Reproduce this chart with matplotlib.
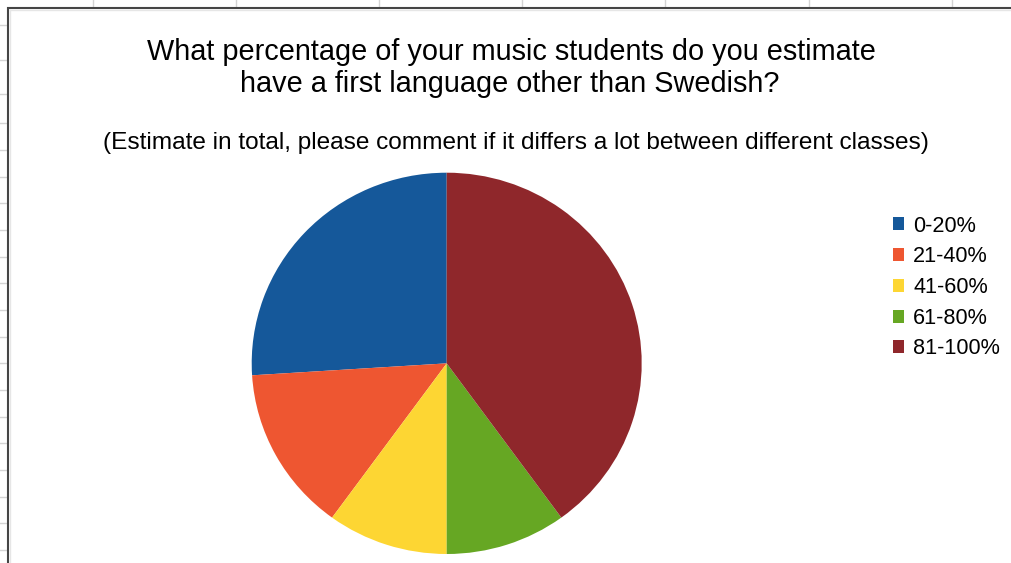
import matplotlib.pyplot as plt
from matplotlib.lines import Line2D
from matplotlib.patches import Rectangle

# data
labels = ['0-20%', '21-40%', '41-60%', '61-80%', '81-100%']
shares = [26, 14, 10, 10, 40]
colors = ['#15589a', '#ee5631', '#fdd633', '#66a723', '#8f272b']

title_1 = 'What percentage of your music students do you estimate'
title_2 = 'have a first language other than Swedish?'
subtitle = '(Estimate in total, please comment if it differs a lot between different classes)'

plt.rcParams['font.family'] = ['Liberation Sans', 'DejaVu Sans']

W, H = 1011, 563
fig = plt.figure(figsize=(W / 100, H / 100), dpi=100)
fig.patch.set_facecolor('white')

def fx(px):
    return px / W

def fy(py):
    return 1 - py / H

# spreadsheet cells behind the chart
grid_col = '#d4d4d4'
for x in [93, 236, 379, 522, 665, 809, 952]:
    fig.add_artist(Line2D([fx(x), fx(x)], [fy(0), fy(7)], color=grid_col, lw=1, zorder=-3))
for y in [25, 60, 94, 123, 150, 177, 203, 230, 257, 283, 310, 337, 363, 390, 417, 443, 470, 497, 523, 550]:
    fig.add_artist(Line2D([fx(0), fx(7)], [fy(y), fy(y)], color=grid_col, lw=1, zorder=-3))

# chart box
fig.add_artist(Rectangle((fx(7.5), fy(600)), fx(1100), fy(7.5) - fy(600),
                         facecolor='white', edgecolor='#454545', lw=1.5, zorder=-2))
fig.add_artist(Line2D([fx(10), fx(10)], [fy(10), fy(563)], color='#e6e6e6', lw=1, zorder=-1))
fig.add_artist(Line2D([fx(10), fx(1011)], [fy(10), fy(10)], color='#e6e6e6', lw=1, zorder=-1))

fig.text(fx(511), fy(60.5), title_1, ha='center', va='baseline', fontsize=20.8, color='black')
fig.text(fx(510), fy(92), title_2, ha='center', va='baseline', fontsize=20.8, color='black')
fig.text(fx(516), fy(149.5), subtitle, ha='center', va='baseline', fontsize=17.6, color='black')

# pie
ax = fig.add_axes([fx(251.7), fy(554), fx(641.7) - fx(251.7), fy(172.7) - fy(554)])
wedges, _ = ax.pie(shares, colors=colors, startangle=90, counterclock=True,
                   wedgeprops=dict(linewidth=0, edgecolor='none'))
ax.set_aspect('auto')
ax.set_xlim(-1, 1)
ax.set_ylim(-1, 1)
ax.axis('off')

fig.legend(wedges, labels, loc='upper left', bbox_to_anchor=(fx(892.5), fy(215.5)),
           frameon=False, fontsize=15.6, handlelength=0.55, handleheight=0.55,
           handletextpad=0.4, labelspacing=0.45, borderaxespad=0, borderpad=0)

fig.savefig('out.png', dpi=100)
